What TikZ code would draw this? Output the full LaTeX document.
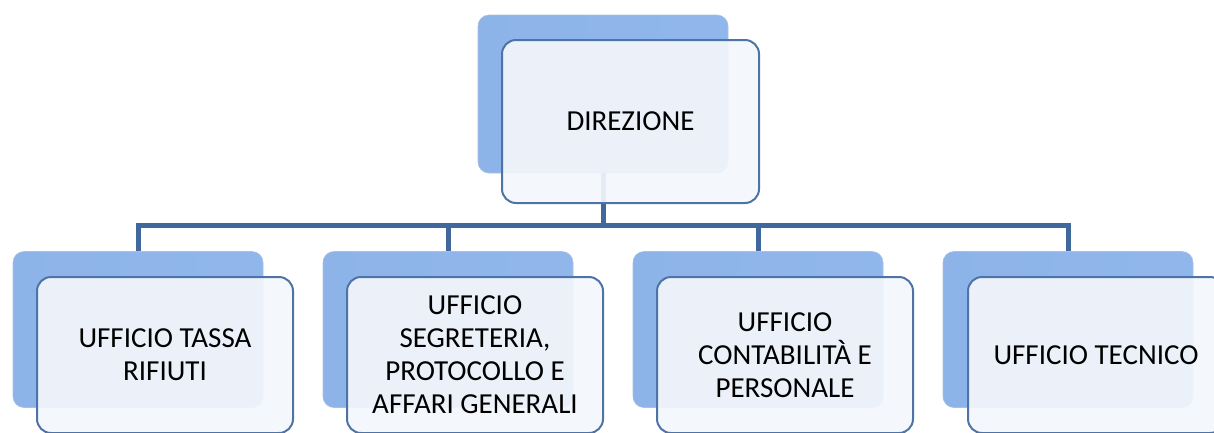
\documentclass[tikz,border=0pt]{standalone}
\usepackage{fontspec}
\setmainfont{Carlito}
\definecolor{blueedge}{HTML}{A9C0E2}
\definecolor{frontfill}{HTML}{F3F6FB}
\definecolor{frontline}{HTML}{4E73A7}
\definecolor{connc}{HTML}{41689C}
\pgfdeclarehorizontalshading{bevel}{100bp}{color(0bp)=(blue!0!black!0!white);
  rgb(0bp)=(0.47,0.60,0.81); rgb(6bp)=(0.50,0.64,0.85); rgb(12bp)=(0.55,0.70,0.91);
  rgb(90bp)=(0.57,0.72,0.93); rgb(100bp)=(0.60,0.75,0.95)}
\tikzset{
  backbox/.style={rounded corners=11pt, minimum width=250pt, minimum height=156pt,
    shading=bevel, draw=blueedge, line width=0.6pt, inner sep=0pt},
  frontbox/.style={rounded corners=14pt, minimum width=256pt, minimum height=156pt,
    fill=frontfill, fill opacity=0.92, text opacity=1, draw=frontline, line width=2pt,
    align=center, inner sep=4pt, font=\fontsize{29}{33}\selectfont},
  conn/.style={draw=connc, line width=5pt}
}
\begin{document}
\begin{tikzpicture}[x=1pt,y=-1pt]
\useasboundingbox (0,0) rectangle (1214,432);
\clip (0,0) rectangle (1214,432);
% back boxes
\node[backbox, minimum height=158pt] (topb) at (603,94) {};
\node[backbox] (c1b) at (138,329.5) {};
\node[backbox] (c2b) at (448,329.5) {};
\node[backbox] (c3b) at (758,329.5) {};
\node[backbox] (c4b) at (1068,329.5) {};
% connectors
\coordinate (bus) at (603,225);
\draw[conn] (topb.south) -- (bus);
\draw[conn] (bus) -| (c1b.north);
\draw[conn] (bus) -| (c2b.north);
\draw[conn] (bus) -| (c3b.north);
\draw[conn] (bus) -| (c4b.north);
% front boxes
\node[frontbox, minimum width=257pt, minimum height=163pt] (top) at (630.5,121.5) {DIREZIONE};
\node[frontbox] (c1) at (165,355) {UFFICIO TASSA\\RIFIUTI};
\node[frontbox] (c2) at (475,355) {UFFICIO\\SEGRETERIA,\\PROTOCOLLO E\\AFFARI GENERALI};
\node[frontbox] (c3) at (785,355) {UFFICIO\\CONTABILITÀ E\\PERSONALE};
\node[frontbox] (c4) at (1096,355) {UFFICIO TECNICO};
\end{tikzpicture}
\end{document}
